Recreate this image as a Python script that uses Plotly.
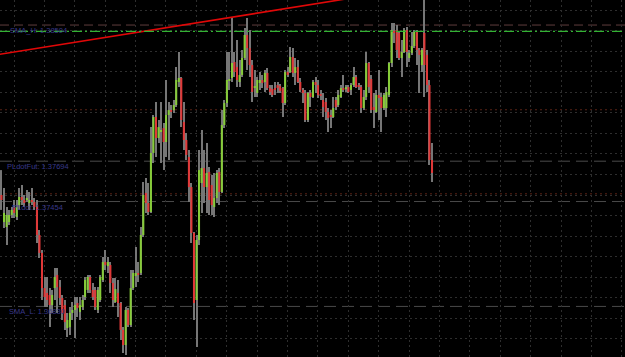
import plotly.graph_objects as go

# ---- candle data (price) ----
open_ = [
    1.37493, 1.37332, 1.37302, 1.37332, 1.37374, 1.37421, 1.37362, 1.37433, 1.37481, 1.37463,
    1.37469, 1.37445, 1.37463, 1.37451, 1.37421, 1.37255, 1.37148, 1.36939, 1.36910, 1.36898,
    1.36838, 1.36939, 1.37017, 1.36945, 1.36880, 1.36838, 1.36701, 1.36707, 1.36791, 1.36809,
    1.36850, 1.36797, 1.36826, 1.36886, 1.36928, 1.37005, 1.36928, 1.36928, 1.36809, 1.36868,
    1.36987, 1.37094, 1.37070, 1.37076, 1.36969, 1.36856, 1.36910, 1.36850, 1.36690, 1.36600,
    1.36809, 1.36719, 1.36939, 1.37011, 1.37029, 1.37029, 1.37255, 1.37505, 1.37445, 1.37392,
    1.37743, 1.37957, 1.37832, 1.37868, 1.37891, 1.37808, 1.37969, 1.37998, 1.37998, 1.38028,
    1.38165, 1.38189, 1.37927, 1.37820, 1.37719, 1.37540, 1.37267, 1.36868, 1.37225, 1.37564,
    1.37653, 1.37540, 1.37630, 1.37552, 1.37421, 1.37475, 1.37630, 1.37511, 1.37909, 1.38040,
    1.38177, 1.38189, 1.38284, 1.38254, 1.38165, 1.38207, 1.38308, 1.38445, 1.38367, 1.38266,
    1.38129, 1.38100, 1.38159, 1.38177, 1.38165, 1.38219, 1.38129, 1.38123, 1.38129, 1.38147,
    1.38141, 1.38129, 1.38040, 1.38225, 1.38225, 1.38314, 1.38219, 1.38254, 1.38165, 1.38118,
    1.38100, 1.37939, 1.38100, 1.38076, 1.38165, 1.38147, 1.38088, 1.38058, 1.38046, 1.37987,
    1.37963, 1.37957, 1.38058, 1.38028, 1.38076, 1.38129, 1.38123, 1.38135, 1.38118, 1.38147,
    1.38195, 1.38147, 1.38135, 1.38010, 1.38076, 1.38278, 1.38183, 1.38016, 1.37987, 1.38088,
    1.38076, 1.38010, 1.38010, 1.38088, 1.38278, 1.38469, 1.38474, 1.38457, 1.38308, 1.38344,
    1.38474, 1.38308, 1.38338, 1.38379, 1.38463, 1.38356, 1.38266, 1.38457, 1.38326, 1.38147,
    1.37701,
]
high_ = [
    1.37641, 1.37534, 1.37421, 1.37404, 1.37421, 1.37463, 1.37463, 1.37534, 1.37552, 1.37493,
    1.37522, 1.37511, 1.37534, 1.37475, 1.37463, 1.37285, 1.37166, 1.37005, 1.37005, 1.36939,
    1.36928, 1.37058, 1.37058, 1.36987, 1.36898, 1.36868, 1.36791, 1.36826, 1.36856, 1.36886,
    1.36886, 1.36886, 1.36898, 1.37005, 1.37017, 1.37017, 1.36969, 1.36945, 1.36945, 1.37017,
    1.37124, 1.37166, 1.37124, 1.37094, 1.36999, 1.36999, 1.36987, 1.36856, 1.36707, 1.36826,
    1.36820, 1.37047, 1.37047, 1.37183, 1.37094, 1.37302, 1.37570, 1.37594, 1.37564, 1.37897,
    1.37969, 1.38046, 1.37939, 1.38046, 1.37921, 1.38177, 1.38046, 1.38028, 1.38058, 1.38254,
    1.38344, 1.38195, 1.38046, 1.37862, 1.37760, 1.37564, 1.37273, 1.37255, 1.37760, 1.37879,
    1.37760, 1.37802, 1.37659, 1.37612, 1.37624, 1.37641, 1.37653, 1.37998, 1.38058, 1.38344,
    1.38344, 1.38552, 1.38344, 1.38415, 1.38296, 1.38356, 1.38486, 1.38546, 1.38474, 1.38296,
    1.38237, 1.38195, 1.38225, 1.38207, 1.38237, 1.38248, 1.38147, 1.38147, 1.38165, 1.38165,
    1.38153, 1.38135, 1.38237, 1.38254, 1.38373, 1.38367, 1.38308, 1.38296, 1.38189, 1.38129,
    1.38118, 1.38106, 1.38118, 1.38177, 1.38195, 1.38177, 1.38118, 1.38100, 1.38070, 1.38010,
    1.37998, 1.38076, 1.38076, 1.38118, 1.38147, 1.38207, 1.38147, 1.38147, 1.38159, 1.38254,
    1.38207, 1.38159, 1.38147, 1.38118, 1.38344, 1.38284, 1.38207, 1.38100, 1.38118, 1.38237,
    1.38100, 1.38100, 1.38135, 1.38284, 1.38516, 1.38516, 1.38504, 1.38463, 1.38415, 1.38486,
    1.38492, 1.38356, 1.38463, 1.38474, 1.38474, 1.38367, 1.38367, 1.38653, 1.38356, 1.38177,
    1.37802,
]
low_ = [
    1.37404, 1.37296, 1.37195, 1.37314, 1.37356, 1.37356, 1.37344, 1.37404, 1.37433, 1.37421,
    1.37451, 1.37404, 1.37433, 1.37404, 1.37207, 1.37118, 1.36868, 1.36826, 1.36826, 1.36707,
    1.36791, 1.36868, 1.36791, 1.36838, 1.36749, 1.36690, 1.36648, 1.36660, 1.36749, 1.36642,
    1.36767, 1.36749, 1.36809, 1.36868, 1.36910, 1.36910, 1.36868, 1.36809, 1.36791, 1.36856,
    1.36975, 1.37047, 1.37029, 1.36910, 1.36826, 1.36850, 1.36767, 1.36630, 1.36553, 1.36541,
    1.36707, 1.36707, 1.36928, 1.36945, 1.36975, 1.37017, 1.37243, 1.37386, 1.37374, 1.37386,
    1.37683, 1.37719, 1.37802, 1.37683, 1.37641, 1.37719, 1.37701, 1.37951, 1.37981, 1.38016,
    1.38135, 1.37897, 1.37760, 1.37701, 1.37451, 1.37207, 1.36749, 1.36588, 1.37195, 1.37386,
    1.37445, 1.37386, 1.37374, 1.37374, 1.37362, 1.37445, 1.37433, 1.37505, 1.37891, 1.38016,
    1.38118, 1.38165, 1.38195, 1.38135, 1.38135, 1.38195, 1.38296, 1.38237, 1.38195, 1.38046,
    1.38076, 1.38076, 1.38118, 1.38129, 1.38106, 1.38118, 1.38088, 1.38076, 1.38088, 1.38100,
    1.38100, 1.37957, 1.38028, 1.38195, 1.38219, 1.38195, 1.38147, 1.38159, 1.38106, 1.38040,
    1.37927, 1.37927, 1.38016, 1.38070, 1.38100, 1.38070, 1.38058, 1.37957, 1.37939, 1.37868,
    1.37891, 1.37951, 1.37998, 1.38016, 1.38070, 1.38106, 1.38106, 1.38100, 1.38088, 1.38135,
    1.38129, 1.38118, 1.37981, 1.37998, 1.38058, 1.38100, 1.37981, 1.37891, 1.37981, 1.37939,
    1.37868, 1.37998, 1.37957, 1.38076, 1.38254, 1.38397, 1.38308, 1.38296, 1.38195, 1.38338,
    1.38254, 1.38284, 1.38326, 1.38367, 1.38266, 1.38100, 1.38225, 1.38076, 1.38106, 1.37671,
    1.37570,
]
close_ = [
    1.37463, 1.37386, 1.37374, 1.37374, 1.37404, 1.37386, 1.37421, 1.37481, 1.37463, 1.37445,
    1.37475, 1.37463, 1.37451, 1.37421, 1.37255, 1.37148, 1.36939, 1.36886, 1.36868, 1.36838,
    1.36898, 1.37005, 1.36945, 1.36880, 1.36791, 1.36737, 1.36749, 1.36791, 1.36809, 1.36838,
    1.36820, 1.36838, 1.36868, 1.36987, 1.37005, 1.36928, 1.36886, 1.36826, 1.36928, 1.37005,
    1.37094, 1.37076, 1.37094, 1.36969, 1.36868, 1.36933, 1.36850, 1.36690, 1.36600, 1.36809,
    1.36719, 1.36939, 1.37029, 1.37029, 1.37017, 1.37255, 1.37493, 1.37445, 1.37392, 1.37743,
    1.37957, 1.37832, 1.37897, 1.37874, 1.37808, 1.37969, 1.37998, 1.37987, 1.38028, 1.38177,
    1.38189, 1.37939, 1.37820, 1.37731, 1.37540, 1.37267, 1.36850, 1.37225, 1.37641, 1.37653,
    1.37540, 1.37624, 1.37463, 1.37433, 1.37475, 1.37624, 1.37511, 1.37909, 1.38040, 1.38177,
    1.38183, 1.38278, 1.38225, 1.38177, 1.38207, 1.38308, 1.38445, 1.38367, 1.38266, 1.38106,
    1.38141, 1.38177, 1.38177, 1.38159, 1.38219, 1.38129, 1.38106, 1.38088, 1.38123, 1.38129,
    1.38112, 1.38040, 1.38225, 1.38207, 1.38314, 1.38219, 1.38254, 1.38165, 1.38118, 1.38100,
    1.37939, 1.38100, 1.38076, 1.38165, 1.38147, 1.38088, 1.38082, 1.38016, 1.37987, 1.37951,
    1.37957, 1.38010, 1.38016, 1.38088, 1.38129, 1.38118, 1.38135, 1.38106, 1.38147, 1.38195,
    1.38135, 1.38135, 1.38010, 1.38076, 1.38278, 1.38135, 1.37998, 1.37998, 1.38088, 1.38070,
    1.38010, 1.38088, 1.38106, 1.38278, 1.38474, 1.38457, 1.38356, 1.38308, 1.38344, 1.38474,
    1.38344, 1.38338, 1.38379, 1.38463, 1.38356, 1.38326, 1.38356, 1.38266, 1.38147, 1.37701,
    1.37624,
]

# indicator levels
level_names = ["SMA_H", "PLdotFut", "PLdot", "SMA_L"]
level_values = [1.38504, 1.37694, 1.37454, 1.36830]
pldot_high = 1.38466
round_levels = [1.38000, 1.37500]

# trendline (bar index, price)
trend_x = [-1, 140]
trend_y = [1.38329, 1.38669]

# ---- build ----
n = len(close_)
idx = list(range(n))
MINB = 0.00006

wick_base, wick_h = [], []
body_base, body_h, body_col = [], [], []
for o, h, l, c in zip(open_, high_, low_, close_):
    hi = max(h, o, c)
    lo = min(l, o, c)
    wick_base.append(lo)
    wick_h.append(hi - lo)
    d = abs(c - o)
    body_base.append(min(o, c) if d >= MINB else (o + c) / 2 - MINB / 2)
    body_h.append(max(d, MINB))
    if d < 0.00002:
        body_col.append("#8a8a8a")
    elif c > o:
        body_col.append("#86CC38")
    else:
        body_col.append("#E03838")

fig = go.Figure()
fig.add_trace(go.Bar(x=idx, y=wick_h, base=wick_base, width=0.4,
                     marker=dict(color="#767676", line=dict(width=0)),
                     hoverinfo="skip"))
fig.add_trace(go.Bar(x=idx, y=body_h, base=body_base, width=0.8,
                     marker=dict(color=body_col, line=dict(width=0)),
                     hoverinfo="skip"))
fig.add_trace(go.Scatter(x=trend_x, y=trend_y, mode="lines",
                         line=dict(color="#e00808", width=1.6),
                         hoverinfo="skip"))

shapes = []
level_styles = {
    "SMA_H": ("#5e3c3c", "9px,5px"),
    "PLdotFut": ("#4a4a4a", "12px,6px"),
    "PLdot": ("#4a4a4a", "12px,6px"),
    "SMA_L": ("#4a4a4a", "12px,6px"),
}
for name, v in zip(level_names, level_values):
    col, dash = level_styles[name]
    shapes.append(dict(type="line", xref="paper", x0=0, x1=1, yref="y", y0=v, y1=v,
                       line=dict(color=col, width=1, dash=dash), layer="between"))
shapes.append(dict(type="line", xref="paper", x0=0, x1=1, yref="y", y0=pldot_high, y1=pldot_high,
                   line=dict(color="#33b233", width=1.3, dash="10px,3px,2px,3px"), layer="above"))
for v in round_levels:
    shapes.append(dict(type="line", xref="paper", x0=0, x1=1, yref="y", y0=v, y1=v,
                       line=dict(color="#5a2214", width=1, dash="2px,3px"), layer="between"))

label_x = {"SMA_H": 8, "PLdotFut": 5, "PLdot": 10, "SMA_L": 7}
annotations = []
for name, v in zip(level_names, level_values):
    annotations.append(dict(x=label_x[name] / 625, xref="paper", xanchor="left",
                            y=v, yref="y", yanchor="top", yshift=1,
                            text=f"{name}: {v:.5f}", showarrow=False,
                            font=dict(family="Liberation Sans, Arial", size=7.5, color="#38388a")))

fig.update_layout(
    width=625, height=357,
    margin=dict(l=0, r=0, t=0, b=0),
    paper_bgcolor="#000000", plot_bgcolor="#000000",
    barmode="overlay", showlegend=False, hovermode=False,
    shapes=shapes, annotations=annotations,
    xaxis=dict(range=[-0.592, 246.2], showticklabels=False, ticks="", zeroline=False,
               showline=False, showgrid=True, gridcolor="#2e2e2e", griddash="2px,3px",
               gridwidth=1, tick0=4.94, dtick=12),
    yaxis=dict(range=[1.36529, 1.38653], showticklabels=False, ticks="", zeroline=False,
               showline=False, showgrid=True, gridcolor="#2e2e2e", griddash="2px,3px",
               gridwidth=1, tick0=1.385935, dtick=0.0012233),
)

fig.write_html("out.html")
